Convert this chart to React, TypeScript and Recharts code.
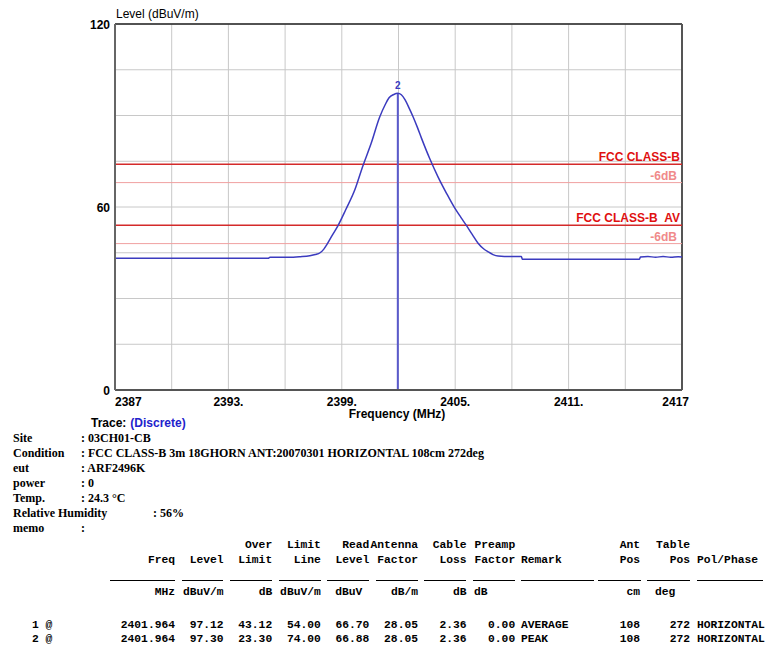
import React from 'react'
import {
  LineChart,
  Line,
  XAxis,
  YAxis,
  CartesianGrid,
  ReferenceLine,
  ReferenceDot,
} from 'recharts'

// trace (MHz / dBuV/m)
const freqMHz = [
  2387, 2389, 2391, 2393, 2395.1, 2395.2, 2396.2, 2396.8, 2397.3, 2397.6,
  2397.85, 2398.05, 2398.2, 2398.5, 2398.8, 2399.2, 2399.7, 2400.1, 2400.55, 2401.0,
  2401.3, 2401.5, 2401.75, 2401.96, 2402.15, 2402.35, 2402.55, 2402.77, 2403.0, 2403.22,
  2403.65, 2404.09, 2404.54, 2404.98, 2405.3, 2405.6, 2405.9, 2406.21, 2406.5, 2406.74,
  2407.0, 2407.27, 2407.6, 2408.5, 2408.55, 2410, 2412, 2414.75, 2414.8, 2415.2,
  2415.6, 2416, 2416.4, 2416.8, 2417,
]
const levelDb = [
  43.2, 43.2, 43.2, 43.2, 43.2, 43.5, 43.5, 43.7, 44.0, 44.4,
  45.0, 46.2, 47.6, 50.8, 53.9, 59.0, 65.8, 73.2, 80.8, 89.4,
  93.6, 95.8, 96.9, 97.3, 96.8, 95.1, 92.6, 89.6, 86.1, 82.5,
  75.9, 69.9, 64.5, 59.6, 56.6, 53.9, 51.0, 48.1, 46.3, 45.3,
  44.4, 43.9, 43.8, 43.8, 42.9, 42.9, 42.9, 42.9, 43.6, 43.8,
  43.5, 43.8, 43.5, 43.7, 43.6,
]

const yTicks = [0, 15, 30, 45, 60, 75, 90, 105, 120]
const yTickLabels: Record<number, string> = { 0: '0', 60: '60', 120: '120' }
const xTicks = [2387, 2390, 2393, 2396, 2399, 2402, 2405, 2408, 2411, 2414, 2417]
const xTickLabels: Record<number, string> = {
  2387: '2387',
  2393: '2393.',
  2399: '2399.',
  2405: '2405.',
  2411: '2411.',
  2417: '2417',
}

const limitNames = ['FCC CLASS-B', 'FCC CLASS-B\u00a0\u00a0AV']
const limitValues = [74, 54]
const marginValues = [68, 48]

const markerFreq = 2401.964
const markerLevel = 97.3

const infoLabels = ['Site', 'Condition', 'eut', 'power', 'Temp.', 'Relative Humidity', 'memo']
const infoValues = [
  ': 03CH01-CB',
  ': FCC CLASS-B 3m 18GHORN ANT:20070301 HORIZONTAL 108cm 272deg',
  ': ARF2496K',
  ': 0',
  ': 24.3 \u00b0C',
  ': 56%',
  ':',
]

const headTop = ['', '', 'Over', 'Limit', 'Read', 'Antenna', 'Cable', 'Preamp']
const headBottom = ['Freq', 'Level', 'Limit', 'Line', 'Level', 'Factor', 'Loss', 'Factor']
const headUnits = ['MHz', 'dBuV/m', 'dB', 'dBuV/m', 'dBuV', 'dB/m', 'dB', 'dB']
const rowIds = ['1 @', '2 @']
const rowFreq = ['2401.964', '2401.964']
const rowLevel = ['97.12', '97.30']
const rowOver = ['43.12', '23.30']
const rowLimit = ['54.00', '74.00']
const rowRead = ['66.70', '66.88']
const rowAnt = ['28.05', '28.05']
const rowCable = ['2.36', '2.36']
const rowPreamp = ['0.00', '0.00']
const rowRemark = ['AVERAGE', 'PEAK']
const rowAntPos = ['108', '108']
const rowTablePos = ['272', '272']
const rowPol = ['HORIZONTAL', 'HORIZONTAL']

const data = freqMHz.map((f, i) => ({ freq: f, level: levelDb[i] }))

const sans = '"Liberation Sans", Arial, sans-serif'
const serif = '"Liberation Serif", "Times New Roman", serif'
const mono = '"Liberation Mono", "Courier New", monospace'

const YTick = (props: any) => {
  const { x, y, payload } = props
  const label = yTickLabels[payload.value]
  if (!label) return null
  return (
    <text x={x + 3} y={y + 5} textAnchor="end" fontFamily={sans} fontWeight="bold" fontSize={12} fill="#000">
      {label}
    </text>
  )
}

const XTick = (props: any) => {
  const { x, y, payload } = props
  const label = xTickLabels[payload.value]
  if (!label) return null
  let anchor = 'middle'
  let dx = 0
  if (payload.value === 2387) anchor = 'start'
  if (payload.value === 2417) {
    anchor = 'end'
    dx = 7
  }
  return (
    <text x={x + dx} y={y + 10} textAnchor={anchor} fontFamily={sans} fontWeight="bold" fontSize={12} fill="#000">
      {label}
    </text>
  )
}

const LimitLabel = (props: any) => {
  const { viewBox, text, color, dx } = props
  if (!viewBox) return null
  return (
    <text
      x={viewBox.x + viewBox.width - (dx || 2)}
      y={viewBox.y - 3}
      textAnchor="end"
      fontFamily={sans}
      fontWeight="bold"
      fontSize={12}
      fill={color}
    >
      {text}
    </text>
  )
}

const colRight = [175, 223.6, 272.2, 320.8, 369.4, 418, 466.6, 515.2]
const underlines = [
  [110, 175], [182, 223], [230, 272], [279, 321], [327, 369], [376, 418],
  [424, 466], [473, 515], [521, 594], [598, 641], [647, 690], [697, 763],
]

export default function App() {
  const tText = { fontFamily: mono, fontWeight: 'bold' as const, fontSize: 11.3, fill: '#000' }
  const iText = { fontFamily: serif, fontWeight: 'bold' as const, fontSize: 12, fill: '#000' }
  const rowCols = [rowFreq, rowLevel, rowOver, rowLimit, rowRead, rowAnt, rowCable, rowPreamp]
  return (
    <div style={{ position: 'absolute', left: 0, top: 0, width: 765, height: 645, background: '#fff' }}>
      <LineChart
        width={765}
        height={420}
        data={data}
        margin={{ top: 24, right: 83, bottom: 0, left: 0 }}
        style={{ position: 'absolute', left: 0, top: 0 }}
      >
        <CartesianGrid stroke="#c8c8c8" strokeWidth={1} />
        <XAxis
          dataKey="freq"
          type="number"
          domain={[2387, 2417]}
          ticks={xTicks}
          interval={0}
          tick={<XTick />}
          tickLine={false}
          tickMargin={0}
          height={30}
          axisLine={{ stroke: '#555', strokeWidth: 2 }}
          allowDataOverflow
        />
        <YAxis
          type="number"
          domain={[0, 120]}
          ticks={yTicks}
          interval={0}
          tick={<YTick />}
          tickLine={false}
          width={115}
          axisLine={{ stroke: '#666', strokeWidth: 2 }}
          allowDataOverflow
        />
        <ReferenceLine y={120} stroke="#222" strokeWidth={1.5} />
        <ReferenceLine x={2417} stroke="#555" strokeWidth={2} />
        {marginValues.map((v, i) => (
          <ReferenceLine
            key={'m' + i}
            y={v}
            stroke="#f0a0a0"
            strokeWidth={1}
            label={<LimitLabel text="-6dB" color="#f08a8a" dx={5} />}
          />
        ))}
        {limitValues.map((v, i) => (
          <ReferenceLine
            key={'l' + i}
            y={v}
            stroke="#d42a2a"
            strokeWidth={1.5}
            label={<LimitLabel text={limitNames[i]} color="#e01010" dx={2} />}
          />
        ))}
        <ReferenceLine
          segment={[
            { x: markerFreq, y: 0 },
            { x: markerFreq, y: markerLevel },
          ]}
          stroke="#5a5acc"
          strokeWidth={2}
        />
        <Line
          type="monotone"
          dataKey="level"
          stroke="#3b3bbf"
          strokeWidth={1.5}
          dot={false}
          isAnimationActive={false}
        />
        <ReferenceDot
          x={markerFreq}
          y={markerLevel}
          r={0}
          label={{ value: '2', position: 'top', offset: 4, fill: '#3b3bbf', fontSize: 10, fontWeight: 'bold', fontFamily: sans }}
        />
      </LineChart>

      <svg width={765} height={645} style={{ position: 'absolute', left: 0, top: 0, pointerEvents: 'none' }}>
        <text x={116} y={18} fontFamily={sans} fontSize={12} fill="#000">Level (dBuV/m)</text>
        <text x={397} y={418} textAnchor="middle" fontFamily={sans} fontWeight="bold" fontSize={12} fill="#000">
          Frequency (MHz)
        </text>
        <text x={91} y={427} fontFamily={sans} fontWeight="bold" fontSize={12} fill="#000">
          Trace:
          <tspan dx={4} fill="#2222cc">(Discrete)</tspan>
        </text>

        {infoLabels.map((l, i) => (
          <g key={l}>
            <text x={13} y={442 + i * 15} {...iText}>{l}</text>
            <text x={l === 'Relative Humidity' ? 153 : 81} y={442 + i * 15} {...iText}>
              {infoValues[i]}
            </text>
          </g>
        ))}

        {headTop.map((h, i) => (
          <text key={'ht' + i} x={colRight[i]} y={548} textAnchor="end" {...tText}>{h}</text>
        ))}
        {headBottom.map((h, i) => (
          <text key={'hb' + i} x={colRight[i]} y={563} textAnchor="end" {...tText}>{h}</text>
        ))}
        <text x={521} y={563} {...tText}>Remark</text>
        <text x={640} y={548} textAnchor="end" {...tText}>Ant</text>
        <text x={640} y={563} textAnchor="end" {...tText}>Pos</text>
        <text x={690} y={548} textAnchor="end" {...tText}>Table</text>
        <text x={690} y={563} textAnchor="end" {...tText}>Pos</text>
        <text x={697} y={563} {...tText}>Pol/Phase</text>

        {underlines.map(([a, b], i) => (
          <line key={'u' + i} x1={a} x2={b} y1={580.5} y2={580.5} stroke="#000" strokeWidth={1} />
        ))}

        {headUnits.map((u, i) => {
          if (i === 7) return <text key={'un' + i} x={474} y={595} {...tText}>{u}</text>
          const shift = i === 4 ? 7 : 0
          return <text key={'un' + i} x={colRight[i] - shift} y={595} textAnchor="end" {...tText}>{u}</text>
        })}
        <text x={640} y={595} textAnchor="end" {...tText}>cm</text>
        <text x={655} y={595} {...tText}>deg</text>

        {rowIds.map((id, r) => (
          <g key={'r' + r}>
            <text x={32} y={628 + r * 14} {...tText}>{id}</text>
            {rowCols.map((col, c) => (
              <text key={'c' + c} x={colRight[c]} y={628 + r * 14} textAnchor="end" {...tText}>{col[r]}</text>
            ))}
            <text x={521} y={628 + r * 14} {...tText}>{rowRemark[r]}</text>
            <text x={640} y={628 + r * 14} textAnchor="end" {...tText}>{rowAntPos[r]}</text>
            <text x={690} y={628 + r * 14} textAnchor="end" {...tText}>{rowTablePos[r]}</text>
            <text x={697} y={628 + r * 14} {...tText}>{rowPol[r]}</text>
          </g>
        ))}
      </svg>
    </div>
  )
}
